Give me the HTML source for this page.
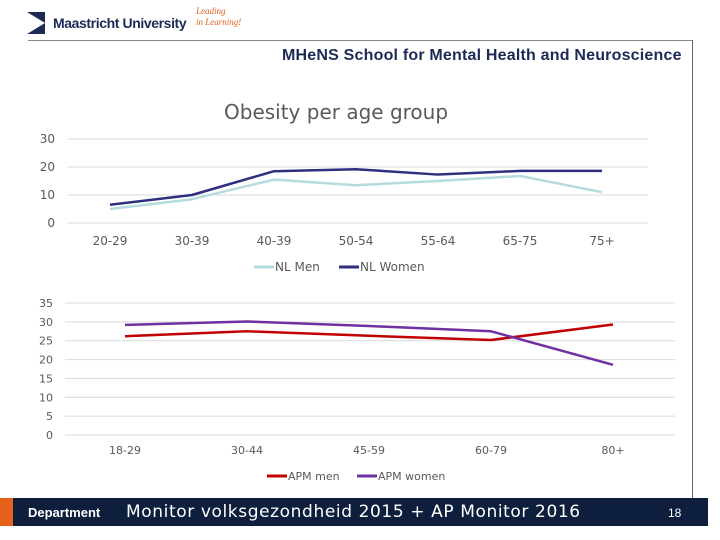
<!DOCTYPE html>
<html><head><meta charset="utf-8"><style>
body{margin:0;width:720px;height:540px;background:#fff;position:relative;overflow:hidden;font-family:"Liberation Sans",sans-serif}
.abs{position:absolute;white-space:nowrap}
</style></head><body>
<div class="abs" style="left:27px;top:12px;width:18px;height:22px;background:#1d2a55;clip-path:polygon(0 0,100% 50%,0 100%,100% 100%,100% 0)"></div>
<div class="abs" style="left:53px;top:15px;font-size:14px;font-weight:bold;color:#1d2a55;letter-spacing:-0.4px">Maastricht University</div>
<div class="abs" style="left:196px;top:6px;font-size:9px;font-style:italic;color:#e06020;line-height:11px;font-family:'Liberation Serif',serif">Leading<br>in Learning!</div>
<div class="abs" style="left:28px;top:40px;width:664px;height:1px;background:#888"></div>
<div class="abs" style="left:692px;top:40px;width:1px;height:460px;background:#666"></div>
<div class="abs" style="left:282px;top:47px;font-size:16px;font-weight:bold;color:#1d2a55;letter-spacing:0.2px">MHeNS School for Mental Health and Neuroscience</div>
<div class="abs" style="left:224px;top:100px;font-size:20px;color:#595959;font-family:'DejaVu Sans',sans-serif">Obesity per age group</div>
<svg class="abs" style="left:0;top:0" width="720" height="540" id="svg" font-family="DejaVu Sans, sans-serif"></svg>
<div class="abs" style="left:0;top:498px;width:13px;height:28px;background:#e8601c"></div>
<div class="abs" style="left:13px;top:498px;width:695px;height:28px;background:#0d1f3c"></div>
<div class="abs" style="left:28px;top:505px;font-size:13px;font-weight:bold;color:#fff">Department</div>
<div class="abs" style="left:126px;top:502px;font-size:17px;color:#fff;font-family:'DejaVu Sans',sans-serif;letter-spacing:0.6px">Monitor volksgezondheid 2015 + AP Monitor 2016</div>
<div class="abs" style="left:668px;top:506px;font-size:12px;color:#fff">18</div>
<script>
const nlCats=["20-29","30-39","40-39","50-54","55-64","65-75","75+"];
const nlMen=[5,8.5,15.5,13.5,15,16.8,11];
const nlWomen=[6.5,10,18.5,19.2,17.3,18.6,18.6];
const nlTicks=[0,10,20,30];
const apmCats=["18-29","30-44","45-59","60-79","80+"];
const apmMen=[26.2,27.5,26.3,25.2,29.3];
const apmWomen=[29.2,30.1,28.9,27.5,18.6];
const apmTicks=[0,5,10,15,20,25,30,35];
const svg=document.getElementById('svg');
const NS='http://www.w3.org/2000/svg';
function mk(t,a,txt){const e=document.createElementNS(NS,t);for(const k in a)e.setAttribute(k,a[k]);if(txt!==undefined)e.textContent=txt;svg.appendChild(e);return e;}
function chart(o){
 const y=v=>o.y0-(v-0)/(o.max)*(o.y0-o.y1);
 const x=i=>o.xs+i*o.dx;
 o.ticks.forEach(t=>{
  const g=mk('line',{x1:o.gx0,x2:o.gx1,y1:y(t),y2:y(t),stroke:'#d9d9d9','stroke-width':1});
  
  const l=mk('text',{x:o.lx,y:y(t)+4,'text-anchor':'end','font-size':o.fs,fill:'#595959'},t);
  
 });
 o.cats.forEach((c,i)=>{
  const l=mk('text',{x:x(i),y:o.catY,'text-anchor':'middle','font-size':o.fs,fill:'#595959'},c);
  
 });
 o.series.forEach(s=>{
  const p=mk('polyline',{points:s.v.map((v,i)=>x(i)+','+y(v)).join(' '),fill:'none',stroke:s.c,'stroke-width':2.5,'stroke-linejoin':'round'});
  
 });
}
chart({cats:nlCats,ticks:nlTicks,max:30,y0:223,y1:139,xs:110,dx:82,gx0:68,gx1:648,lx:55,catY:245,fs:12,
 series:[{v:nlMen,c:'#b4dcdc',n:'line-nl-men'},{v:nlWomen,c:'#2e2f7e',n:'line-nl-women'}]});
chart({cats:apmCats,ticks:apmTicks,max:35,y0:435,y1:303,xs:125,dx:122,gx0:65,gx1:675,lx:53,catY:454,fs:11,
 series:[{v:apmMen,c:'#c00000',n:'line-apm-men'},{v:apmWomen,c:'#7030a0',n:'line-apm-women'}]});
function leg(x,y,c,t,n,fs){
 const l=mk('line',{x1:x,x2:x+20,y1:y,y2:y,stroke:c,'stroke-width':3});
 
 const tx=mk('text',{x:x+21,y:y+4,'font-size':fs,fill:'#595959'},t);
 
}
leg(254,267,'#b4dcdc','NL Men','legend-nl-men',12);
leg(339,267,'#2e2f7e','NL Women','legend-nl-women',12);
leg(267,476,'#c00000','APM men','legend-apm-men',11);
leg(357,476,'#7030a0','APM women','legend-apm-women',11);
</script>
</body></html>
